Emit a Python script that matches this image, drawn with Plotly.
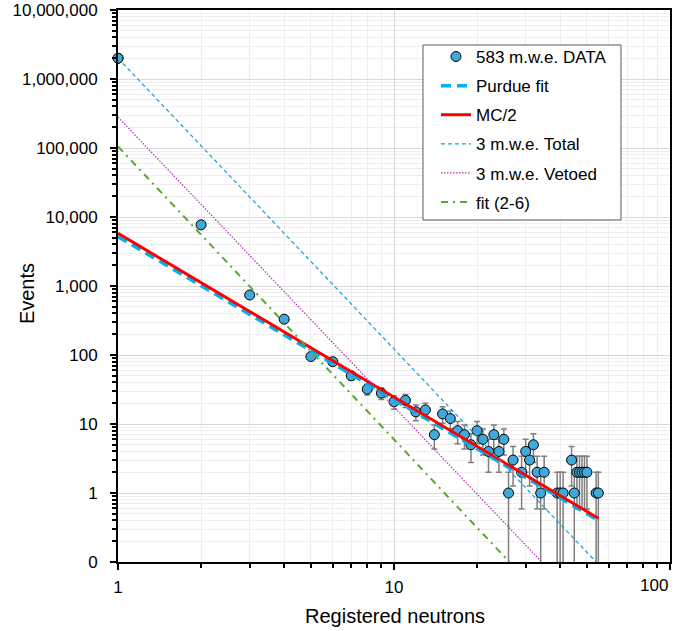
import math
import plotly.graph_objects as go

# ---- data ----
neutrons = [1, 2, 3, 4, 5, 6, 7, 8, 9, 10, 11, 12, 13, 14, 15, 16, 17, 18, 19, 20,
            21, 22, 23, 24, 25, 26, 27, 29, 30, 31, 32, 33, 34, 35, 39, 40, 41, 44,
            45, 46, 47, 48, 49, 50, 54, 55]
events = [2.0e6, 7700, 740, 330, 95, 80, 50, 32, 28, 21, 22, 15, 16, 7, 14, 12, 8, 7, 5, 8,
          6, 4, 7, 4, 6, 1, 3, 2, 4, 3, 5, 2, 1, 2, 1, 1, 1, 3,
          1, 2, 2, 2, 2, 2, 1, 1]

purdue_x = [1, 55]
purdue_y = [5200, 0.40]
mc_x = [1, 55]
mc_y = [5800, 0.43]
total_x = [1, 54]
total_y = [2.0e6, 0.1]
vetoed_x = [1, 34.3]
vetoed_y = [2.8e5, 0.1]
fit_x = [1, 26.2]
fit_y = [1.05e5, 0.1]

y_tickvals = [0.1, 1, 10, 100, 1e3, 1e4, 1e5, 1e6, 1e7]
y_ticktext = ["0", "1", "10", "100", "1,000", "10,000", "100,000", "1,000,000", "10,000,000"]
x_tickvals = [1, 10, 100]
x_ticktext = ["1", "10", ""]
x_last_label = "100"
x_title = "Registered neutrons"
y_title = "Events"

FONT = "Liberation Sans"

errs = [math.sqrt(v) for v in events]

fig = go.Figure()

fig.add_trace(go.Scatter(
    x=neutrons, y=events, mode="markers", name="583 m.w.e. DATA",
    legendgroup="a",
    marker=dict(size=10, color="#41A8DC", line=dict(color="#000000", width=1)),
    error_y=dict(type="data", array=errs, visible=True, color="#7F7F7F",
                 thickness=1.5, width=3),
))
fig.add_trace(go.Scatter(
    x=purdue_x, y=purdue_y, mode="lines", name="Purdue fit", legendgroup="b",
    line=dict(color="#00B0F0", width=3.5, dash="10px,6px"),
))
fig.add_trace(go.Scatter(
    x=mc_x, y=mc_y, mode="lines", name="MC/2", legendgroup="c",
    line=dict(color="#FF0000", width=3),
))
fig.add_trace(go.Scatter(
    x=total_x, y=total_y, mode="lines", name="3 m.w.e. Total", legendgroup="d",
    line=dict(color="#229FD8", width=1.25, dash="4px,3px"),
))
fig.add_trace(go.Scatter(
    x=vetoed_x, y=vetoed_y, mode="lines", name="3 m.w.e. Vetoed", legendgroup="e",
    line=dict(color="#B52FB5", width=1.2, dash="1.5px,1.5px"),
))
fig.add_trace(go.Scatter(
    x=fit_x, y=fit_y, mode="lines", name="fit (2-6)", legendgroup="f",
    line=dict(color="#56A832", width=2, dash="7px,5px,2px,5px"),
))
# first data point drawn unclipped on the axis edge
fig.add_trace(go.Scatter(
    x=neutrons[:1], y=events[:1], mode="markers", showlegend=False,
    cliponaxis=False, hoverinfo="skip",
    marker=dict(size=10, color="#41A8DC", line=dict(color="#000000", width=1)),
))

x_minor = [m * 10 ** d for d in range(0, 2) for m in range(2, 10)]
y_minor = [m * 10 ** d for d in range(-1, 7) for m in range(2, 10)]

axis_common = dict(
    type="log", tickmode="array",
    ticks="outside", ticklen=6, tickwidth=2, tickcolor="#000000",
    showline=True, linecolor="#000000", linewidth=2, mirror=True,
    showgrid=True, gridcolor="#D9D9D9", gridwidth=1,
    zeroline=False, automargin=False,
    tickfont=dict(family=FONT, size=17, color="#000000"),
)

fig.update_layout(
    width=685, height=631,
    margin=dict(l=118, r=15, t=10, b=69),
    paper_bgcolor="white", plot_bgcolor="white",
    font=dict(family=FONT, size=17, color="#000000"),
    showlegend=True,
    legend=dict(
        x=0.5525, y=0.9475, xanchor="left", yanchor="top",
        bgcolor="rgba(0,0,0,0)", borderwidth=0,
        font=dict(family=FONT, size=17, color="#000000"),
        tracegroupgap=4, traceorder="grouped", indentation=13,
    ),
    shapes=[dict(type="rect", xref="paper", yref="paper",
                 x0=0.5525, x1=0.9112, y0=0.6196, y1=0.9366,
                 fillcolor="white", line=dict(color="#595959", width=1),
                 layer="above")],
    xaxis=dict(
        range=[0, 2], tickvals=x_tickvals, ticktext=x_ticktext,
        ticklabelstandoff=3,
        minor=dict(tickmode="array", tickvals=x_minor, ticks="outside", ticklen=4,
                   tickwidth=1.5, tickcolor="#000000", showgrid=True,
                   gridcolor="#EEEEEE", gridwidth=1),
        **axis_common,
    ),
    yaxis=dict(
        range=[-1, 7], tickvals=y_tickvals, ticktext=y_ticktext,
        ticklabelstandoff=9,
        minor=dict(tickmode="array", tickvals=y_minor, ticks="outside", ticklen=4,
                   tickwidth=1.5, tickcolor="#000000", showgrid=True,
                   gridcolor="#EEEEEE", gridwidth=1),
        **axis_common,
    ),
    annotations=[
        dict(text=x_last_label, xref="x", yref="paper", x=2, y=0,
             xanchor="right", yanchor="top", yshift=-12, showarrow=False,
             font=dict(family=FONT, size=17, color="#000000")),
        dict(text=x_title, xref="paper", yref="paper", x=0.502, y=-0.098,
             xanchor="center", yanchor="middle", showarrow=False,
             font=dict(family=FONT, size=20, color="#000000")),
        dict(text=y_title, xref="paper", yref="paper", x=-0.165, y=0.487,
             xanchor="center", yanchor="middle", showarrow=False, textangle=-90,
             font=dict(family=FONT, size=20, color="#000000")),
    ],
)

fig.write_html("out.html",
               config={"displayModeBar": False},
               post_script="document.body.style.margin='0px';"
                           "document.body.style.overflow='hidden';")
